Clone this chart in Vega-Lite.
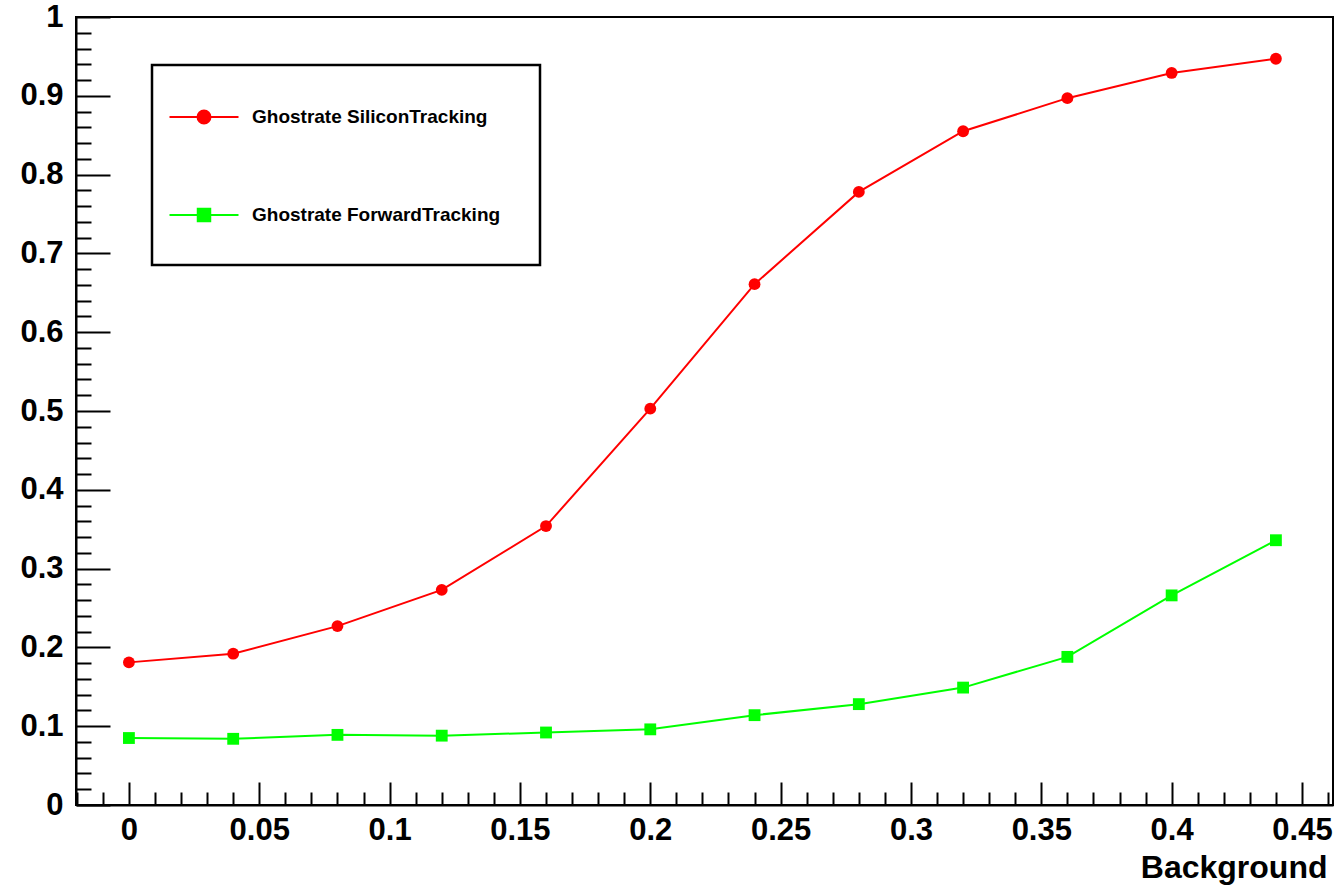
{
  "$schema": "https://vega.github.io/schema/vega-lite/v6.json",
  "width": 1257,
  "height": 788,
  "autosize": {"type": "none"},
  "padding": {"left": 76, "top": 17, "right": 3, "bottom": 81},
  "background": "white",
  "config": {
    "view": {"stroke": "black", "strokeWidth": 2},
    "axis": {
      "grid": false,
      "domainColor": "black",
      "domainWidth": 2,
      "tickColor": "black",
      "tickWidth": 2,
      "labelFont": "Liberation Sans",
      "labelFontWeight": "bold",
      "labelFontSize": 31,
      "labelColor": "black",
      "titleFont": "Liberation Sans",
      "titleFontWeight": "bold",
      "titleFontSize": 32,
      "titleColor": "black",
      "labelFlush": false,
      "labelOverlap": false
    },
    "legend": {
      "orient": "none",
      "legendX": 76,
      "legendY": 48,
      "symbolSize": 576,
      "padding": 39,
      "rowPadding": 74,
      "labelOffset": 35,
      "labelLimit": 500,
      "labelFont": "Liberation Sans",
      "labelFontWeight": "bold",
      "labelFontSize": 19,
      "labelColor": "black",
      "strokeColor": "black",
      "fillColor": "white"
    }
  },
  "data": {
    "values": [
      {"series": "Ghostrate SiliconTracking", "background": 0, "ghostrate": 0.181},
      {"series": "Ghostrate SiliconTracking", "background": 0.04, "ghostrate": 0.192},
      {"series": "Ghostrate SiliconTracking", "background": 0.08, "ghostrate": 0.227},
      {"series": "Ghostrate SiliconTracking", "background": 0.12, "ghostrate": 0.273},
      {"series": "Ghostrate SiliconTracking", "background": 0.16, "ghostrate": 0.354},
      {"series": "Ghostrate SiliconTracking", "background": 0.2, "ghostrate": 0.503},
      {"series": "Ghostrate SiliconTracking", "background": 0.24, "ghostrate": 0.661},
      {"series": "Ghostrate SiliconTracking", "background": 0.28, "ghostrate": 0.778},
      {"series": "Ghostrate SiliconTracking", "background": 0.32, "ghostrate": 0.855},
      {"series": "Ghostrate SiliconTracking", "background": 0.36, "ghostrate": 0.897},
      {"series": "Ghostrate SiliconTracking", "background": 0.4, "ghostrate": 0.929},
      {"series": "Ghostrate SiliconTracking", "background": 0.44, "ghostrate": 0.947},
      {"series": "Ghostrate ForwardTracking", "background": 0, "ghostrate": 0.085},
      {"series": "Ghostrate ForwardTracking", "background": 0.04, "ghostrate": 0.084},
      {"series": "Ghostrate ForwardTracking", "background": 0.08, "ghostrate": 0.089},
      {"series": "Ghostrate ForwardTracking", "background": 0.12, "ghostrate": 0.088},
      {"series": "Ghostrate ForwardTracking", "background": 0.16, "ghostrate": 0.092},
      {"series": "Ghostrate ForwardTracking", "background": 0.2, "ghostrate": 0.096},
      {"series": "Ghostrate ForwardTracking", "background": 0.24, "ghostrate": 0.114},
      {"series": "Ghostrate ForwardTracking", "background": 0.28, "ghostrate": 0.128},
      {"series": "Ghostrate ForwardTracking", "background": 0.32, "ghostrate": 0.149},
      {"series": "Ghostrate ForwardTracking", "background": 0.36, "ghostrate": 0.188},
      {"series": "Ghostrate ForwardTracking", "background": 0.4, "ghostrate": 0.266},
      {"series": "Ghostrate ForwardTracking", "background": 0.44, "ghostrate": 0.336}
    ]
  },
  "resolve": {"axis": {"x": "independent", "y": "independent"}},
  "layer": [
    {
      "mark": {"type": "line", "strokeWidth": 2},
      "encoding": {
        "x": {
          "field": "background",
          "type": "quantitative",
          "scale": {"domain": [-0.0203, 0.4619], "nice": false, "zero": false},
          "axis": {
            "orient": "bottom",
            "values": [0, 0.05, 0.1, 0.15, 0.2, 0.25, 0.3, 0.35, 0.4, 0.45],
            "format": "~g",
            "tickSize": -23,
            "labelPadding": 33,
            "title": "Background",
            "titleAnchor": "end",
            "titleAlign": "right",
            "titleBaseline": "alphabetic",
            "titleX": 1251,
            "titleY": 72
          }
        },
        "y": {
          "field": "ghostrate",
          "type": "quantitative",
          "scale": {"domain": [0, 1], "nice": false},
          "axis": {
            "orient": "left",
            "values": [0, 0.1, 0.2, 0.3, 0.4, 0.5, 0.6, 0.7, 0.8, 0.9, 1],
            "format": "~g",
            "tickSize": -34,
            "labelPadding": 47,
            "title": null
          }
        },
        "color": {
          "field": "series",
          "type": "nominal",
          "sort": ["Ghostrate SiliconTracking", "Ghostrate ForwardTracking"],
          "scale": {"domain": ["Ghostrate SiliconTracking", "Ghostrate ForwardTracking"], "range": ["#ff0000", "#00ff00"]},
          "legend": {
            "title": null,
            "encode": {
              "legend": {"update": {"strokeWidth": {"value": 2.5}}},
              "symbols": {
                "update": {
                  "shape": {"signal": "datum.value === 'Ghostrate SiliconTracking' ? 'M-2.875,0H2.875M0.54,0A0.54,0.54,0,1,1,-0.54,0A0.54,0.54,0,1,1,0.54,0Z' : 'M-2.875,0H2.875M-0.52,-0.52H0.52V0.52H-0.52Z'"},
                  "fill": {"signal": "datum.value === 'Ghostrate SiliconTracking' ? '#ff0000' : '#00ff00'"},
                  "stroke": {"signal": "datum.value === 'Ghostrate SiliconTracking' ? '#ff0000' : '#00ff00'"},
                  "strokeWidth": {"value": 2},
                  "opacity": {"value": 1},
                  "fillOpacity": {"value": 1},
                  "strokeOpacity": {"value": 1}
                }
              }
            }
          }
        }
      }
    },
    {
      "transform": [{"filter": "datum.series === 'Ghostrate SiliconTracking'"}],
      "mark": {"type": "point", "shape": "circle", "filled": true, "size": 140, "opacity": 1, "color": "#ff0000"},
      "encoding": {
        "x": {"field": "background", "type": "quantitative", "scale": {"domain": [-0.0203, 0.4619], "nice": false, "zero": false}, "axis": null},
        "y": {"field": "ghostrate", "type": "quantitative", "scale": {"domain": [0, 1], "nice": false}, "axis": null}
      }
    },
    {
      "transform": [{"filter": "datum.series === 'Ghostrate ForwardTracking'"}],
      "mark": {"type": "point", "shape": "square", "filled": true, "size": 140, "opacity": 1, "color": "#00ff00"},
      "encoding": {
        "x": {"field": "background", "type": "quantitative", "scale": {"domain": [-0.0203, 0.4619], "nice": false, "zero": false}, "axis": null},
        "y": {"field": "ghostrate", "type": "quantitative", "scale": {"domain": [0, 1], "nice": false}, "axis": null}
      }
    },
    {
      "mark": {"type": "point", "opacity": 0},
      "encoding": {
        "x": {
          "field": "background",
          "type": "quantitative",
          "scale": {"domain": [-0.0203, 0.4619], "nice": false, "zero": false},
          "axis": {
            "orient": "bottom",
            "values": [-0.02, -0.01, 0.01, 0.02, 0.03, 0.04, 0.06, 0.07, 0.08, 0.09, 0.11, 0.12, 0.13, 0.14, 0.16, 0.17, 0.18, 0.19, 0.21, 0.22, 0.23, 0.24, 0.26, 0.27, 0.28, 0.29, 0.31, 0.32, 0.33, 0.34, 0.36, 0.37, 0.38, 0.39, 0.41, 0.42, 0.43, 0.44, 0.46],
            "labels": false,
            "domain": false,
            "tickSize": -13,
            "title": null
          }
        },
        "y": {
          "field": "ghostrate",
          "type": "quantitative",
          "scale": {"domain": [0, 1], "nice": false},
          "axis": {
            "orient": "left",
            "values": [0.02, 0.04, 0.06, 0.08, 0.12, 0.14, 0.16, 0.18, 0.22, 0.24, 0.26, 0.28, 0.32, 0.34, 0.36, 0.38, 0.42, 0.44, 0.46, 0.48, 0.52, 0.54, 0.56, 0.58, 0.62, 0.64, 0.66, 0.68, 0.72, 0.74, 0.76, 0.78, 0.82, 0.84, 0.86, 0.88, 0.92, 0.94, 0.96, 0.98],
            "labels": false,
            "domain": false,
            "tickSize": -15,
            "title": null
          }
        }
      }
    }
  ]
}
